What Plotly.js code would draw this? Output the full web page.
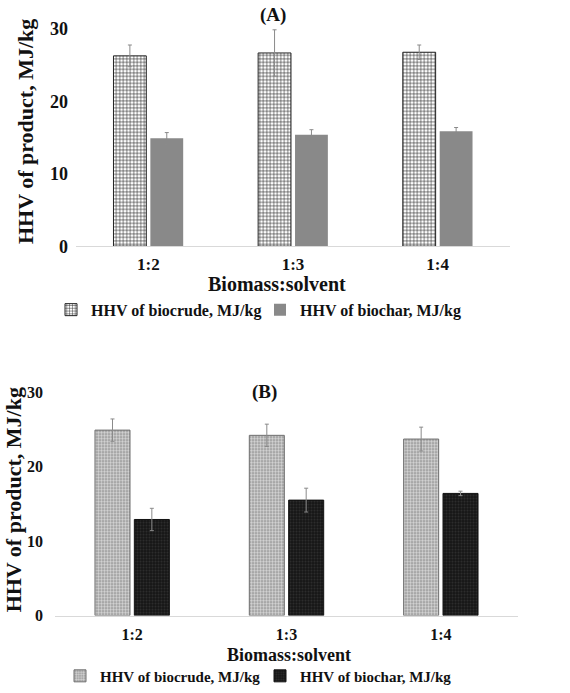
<!DOCTYPE html>
<html>
<head>
<meta charset="utf-8">
<script src="https://cdn.plot.ly/plotly-3.0.1.min.js"></script>
<style>html,body{margin:0;padding:0;background:#fff;}#chart{width:570px;height:693px;}</style>
</head>
<body>
<div id="chart"></div>
<script>
// ---- data ----
var categories = ['1:2', '1:3', '1:4'];
var biocrudeA = [26.3, 26.7, 26.8];
var biocrudeAErr = [1.5, 3.2, 1.0];
var biocharA = [14.9, 15.4, 15.9];
var biocharAErr = [0.8, 0.7, 0.5];
var biocrudeB = [24.9, 24.2, 23.7];
var biocrudeBErr = [1.5, 1.5, 1.6];
var biocharB = [12.9, 15.5, 16.4];
var biocharBErr = [1.5, 1.6, 0.3];
var seriesNames = ['HHV of biocrude, MJ/kg', 'HHV of biochar, MJ/kg'];
var yTicks = [0, 10, 20, 30];

var FONT = 'Liberation Serif, Times New Roman, serif';
function err(a) {
  return {type: 'data', array: a, visible: true, color: '#8a8a8a', thickness: 1, width: 2};
}

var traces = [
  {type: 'bar', x: categories, y: biocrudeA, name: seriesNames[0], xaxis: 'x', yaxis: 'y',
   legend: 'legend', error_y: err(biocrudeAErr),
   marker: {color: '#ffffff', line: {color: '#222', width: 1},
            pattern: {shape: '+', fgcolor: '#222', bgcolor: '#ffffff', size: 3.5, solidity: 0.3}}},
  {type: 'bar', x: categories, y: biocharA, name: seriesNames[1], xaxis: 'x', yaxis: 'y',
   legend: 'legend', error_y: err(biocharAErr),
   marker: {color: '#898989', line: {color: '#898989', width: 0}}},
  {type: 'bar', x: categories, y: biocrudeB, name: seriesNames[0], xaxis: 'x2', yaxis: 'y2',
   legend: 'legend2', error_y: err(biocrudeBErr),
   marker: {color: '#b0b0b0', line: {color: '#6e6e6e', width: 1},
            pattern: {shape: '.', fgcolor: '#d4d4d4', bgcolor: '#9a9a9a', size: 3, solidity: 0.5}}},
  {type: 'bar', x: categories, y: biocharB, name: seriesNames[1], xaxis: 'x2', yaxis: 'y2',
   legend: 'legend2', error_y: err(biocharBErr),
   marker: {color: '#1a1a1a', line: {color: '#111', width: 1},
            pattern: {shape: '.', fgcolor: '#2e2e2e', bgcolor: '#151515', size: 3, solidity: 0.4}}}
];

function ya(fs, standoff) {
  return {range: [0, 30], tickvals: yTicks, showgrid: false, zeroline: false, showline: false,
          ticks: '', ticklabelstandoff: standoff, tickfont: {family: FONT, size: fs, color: '#111', weight: 'bold'},
          fixedrange: true};
}
function xa(fs, standoff) {
  return {showgrid: false, zeroline: false, showline: true, linecolor: '#d9d9d9', linewidth: 1,
          ticks: '', ticklabelstandoff: standoff, tickfont: {family: FONT, size: fs, color: '#111', weight: 'bold'},
          fixedrange: true};
}

var H = 693, W = 570;
function py(p) { return (H - p) / H; }
function px(p) { return p / W; }

var xaxis = xa(17, 2); xaxis.domain = [px(76), px(510)]; xaxis.anchor = 'y';
var yaxis = ya(18, 7); yaxis.domain = [py(248), py(29.3)]; yaxis.anchor = 'x';
var xaxis2 = xa(16, 4); xaxis2.domain = [px(55), px(518)]; xaxis2.anchor = 'y2';
var yaxis2 = ya(16, 11); yaxis2.domain = [py(620), py(395)]; yaxis2.anchor = 'x2';

function ann(text, x, y, size, angle) {
  return {text: text, x: px(x), y: py(y), xref: 'paper', yref: 'paper', showarrow: false,
          xanchor: 'center', yanchor: 'middle', textangle: angle || 0,
          font: {family: FONT, size: size, color: '#111', weight: 'bold'}};
}

var layout = {
  width: W, height: H,
  margin: {l: 0, r: 0, t: 0, b: 0},
  paper_bgcolor: '#fff', plot_bgcolor: '#fff',
  barmode: 'group', bargap: 0.49, bargroupgap: 0.11,
  xaxis: xaxis, yaxis: yaxis, xaxis2: xaxis2, yaxis2: yaxis2,
  showlegend: true,
  legend: {orientation: 'h', x: px(51), y: py(312), xanchor: 'left', yanchor: 'middle',
           font: {family: FONT, size: 16, color: '#111', weight: 'bold'}, itemwidth: 30,
           entrywidth: 164, traceorder: 'normal', bgcolor: 'rgba(0,0,0,0)'},
  legend2: {orientation: 'h', x: px(60), y: py(681), xanchor: 'left', yanchor: 'middle',
           font: {family: FONT, size: 15, color: '#111', weight: 'bold'}, itemwidth: 30,
           entrywidth: 155, traceorder: 'normal', bgcolor: 'rgba(0,0,0,0)'},
  annotations: [
    ann('(A)', 273, 15, 19),
    ann('(B)', 264, 395, 19),
    ann('HHV of product, MJ/kg', 25, 133, 22, -90),
    ann('HHV of product, MJ/kg', 13, 504, 22, -90),
    ann('Biomass:solvent', 277, 286, 20),
    ann('Biomass:solvent', 289, 660, 18)
  ]
};

Plotly.newPlot('chart', traces, layout, {displayModeBar: false, staticPlot: true});
</script>
</body>
</html>
